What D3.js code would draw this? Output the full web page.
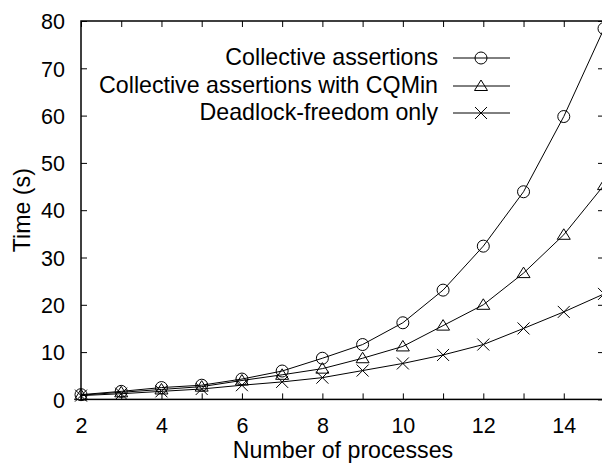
<!DOCTYPE html>
<html>
<head>
<meta charset="utf-8">
<script src="https://cdn.jsdelivr.net/npm/d3@7"></script>
<style>
  body { margin: 0; background: #fff; }
  svg { display: block; }
  text { font-family: "Liberation Sans", Arial, Helvetica, sans-serif; fill: #000; }
</style>
</head>
<body>
<div id="chart"></div>
<script>
// processes on the x axis
var processes = [2, 3, 4, 5, 6, 7, 8, 9, 10, 11, 12, 13, 14, 15];
// time in seconds, one array per series
var collective = [1.0, 1.7, 2.5, 3.0, 4.3, 6.0, 8.7, 11.6, 16.2, 23.1, 32.4, 43.9, 59.8, 78.4];
var collectiveCQMin = [0.9, 1.5, 2.1, 2.7, 4.0, 5.2, 6.5, 8.7, 11.2, 15.6, 20.0, 26.7, 34.8, 45.3];
var deadlockOnly = [0.8, 1.2, 1.7, 2.2, 3.0, 3.7, 4.6, 6.1, 7.6, 9.4, 11.6, 15.0, 18.5, 22.3];
var seriesNames = ["Collective assertions", "Collective assertions with CQMin", "Deadlock-freedom only"];
var xTickLabels = [2, 4, 6, 8, 10, 12, 14];
var yTickLabels = [0, 10, 20, 30, 40, 50, 60, 70, 80];

var W = 602, H = 464;
var plotLeft = 81, plotRight = 604, plotTop = 21, plotBottom = 399.4;
var tickFont = "21.5px";
var labelFont = "23.2px";

var svg = d3.select("#chart").append("svg")
  .attr("width", W).attr("height", H);

var x = d3.scaleLinear().domain([2, 15]).range([plotLeft, plotRight]);
var y = d3.scaleLinear().domain([0, 80]).range([plotBottom, plotTop]);

var tickLen = 6;

// bottom axis, ticks every integer, labels on even numbers
svg.append("g")
  .attr("transform", "translate(0," + plotBottom + ")")
  .call(d3.axisBottom(x).tickValues(d3.range(2, 16)).tickSizeInner(-tickLen).tickSizeOuter(0)
    .tickFormat(function (d) { return xTickLabels.indexOf(d) >= 0 ? d : ""; }))
  .call(function (g) {
    g.select(".domain").remove();
    g.selectAll("line").attr("stroke", "#000");
    g.selectAll("text").attr("y", 26).attr("dy", "0.36em").style("font-size", tickFont);
  });

// top mirror ticks
svg.append("g")
  .attr("transform", "translate(0," + plotTop + ")")
  .call(d3.axisTop(x).tickValues(d3.range(2, 16)).tickSizeInner(-tickLen).tickSizeOuter(0).tickFormat(""))
  .call(function (g) {
    g.select(".domain").remove();
    g.selectAll("line").attr("stroke", "#000");
  });

// left axis
svg.append("g")
  .attr("transform", "translate(" + plotLeft + ",0)")
  .call(d3.axisLeft(y).tickValues(yTickLabels).tickSizeInner(-tickLen).tickSizeOuter(0))
  .call(function (g) {
    g.select(".domain").remove();
    g.selectAll("line").attr("stroke", "#000");
    g.selectAll("text").attr("x", -16).attr("dy", "0.36em").style("font-size", tickFont);
  });

// right mirror ticks
svg.append("g")
  .attr("transform", "translate(" + plotRight + ",0)")
  .call(d3.axisRight(y).tickValues(yTickLabels).tickSizeInner(-tickLen).tickSizeOuter(0).tickFormat(""))
  .call(function (g) {
    g.select(".domain").remove();
    g.selectAll("line").attr("stroke", "#000");
  });

// border
svg.append("rect")
  .attr("x", plotLeft).attr("y", plotTop)
  .attr("width", plotRight - plotLeft).attr("height", plotBottom - plotTop)
  .attr("fill", "none").attr("stroke", "#000").attr("stroke-width", 1.5);

// axis titles
svg.append("text")
  .attr("x", 343).attr("y", 450)
  .attr("dy", "0.36em")
  .attr("text-anchor", "middle")
  .style("font-size", labelFont)
  .text("Number of processes");

svg.append("text")
  .attr("transform", "translate(22," + ((plotTop + plotBottom) / 2) + ") rotate(-90)")
  .attr("dy", "0.36em")
  .attr("text-anchor", "middle")
  .style("font-size", labelFont)
  .text("Time (s)");

// marker drawers
function drawCircle(g) {
  g.append("circle").attr("r", 6).attr("fill", "none").attr("stroke", "#000").attr("stroke-width", 1);
}
function drawTriangle(g) {
  g.append("path").attr("d", "M0,-6L6.5,4.5L-6.5,4.5Z").attr("fill", "none").attr("stroke", "#000").attr("stroke-width", 1);
}
function drawCross(g) {
  g.append("path").attr("d", "M-6,-6L6,6M-6,6L6,-6").attr("fill", "none").attr("stroke", "#000").attr("stroke-width", 1);
}

var series = [
  { name: seriesNames[0], values: collective, marker: drawCircle },
  { name: seriesNames[1], values: collectiveCQMin, marker: drawTriangle },
  { name: seriesNames[2], values: deadlockOnly, marker: drawCross }
];

var line = d3.line()
  .x(function (d) { return x(d[0]); })
  .y(function (d) { return y(d[1]); });

series.forEach(function (s) {
  var pts = processes.map(function (p, i) { return [p, s.values[i]]; });
  svg.append("path")
    .datum(pts)
    .attr("d", line)
    .attr("fill", "none")
    .attr("stroke", "#000")
    .attr("stroke-width", 1);
  pts.forEach(function (p) {
    var g = svg.append("g").attr("transform", "translate(" + x(p[0]) + "," + y(p[1]) + ")");
    s.marker(g);
  });
});

// legend
var legendRows = [58, 86, 113];
series.forEach(function (s, i) {
  var ly = legendRows[i];
  svg.append("text")
    .attr("x", 438).attr("y", ly)
    .attr("dy", "0.3em")
    .attr("text-anchor", "end")
    .style("font-size", labelFont)
    .text(s.name);
  svg.append("line")
    .attr("x1", 453).attr("x2", 510)
    .attr("y1", ly).attr("y2", ly)
    .attr("stroke", "#000").attr("stroke-width", 1);
  var g = svg.append("g").attr("transform", "translate(481," + ly + ")");
  s.marker(g);
});
</script>
</body>
</html>
